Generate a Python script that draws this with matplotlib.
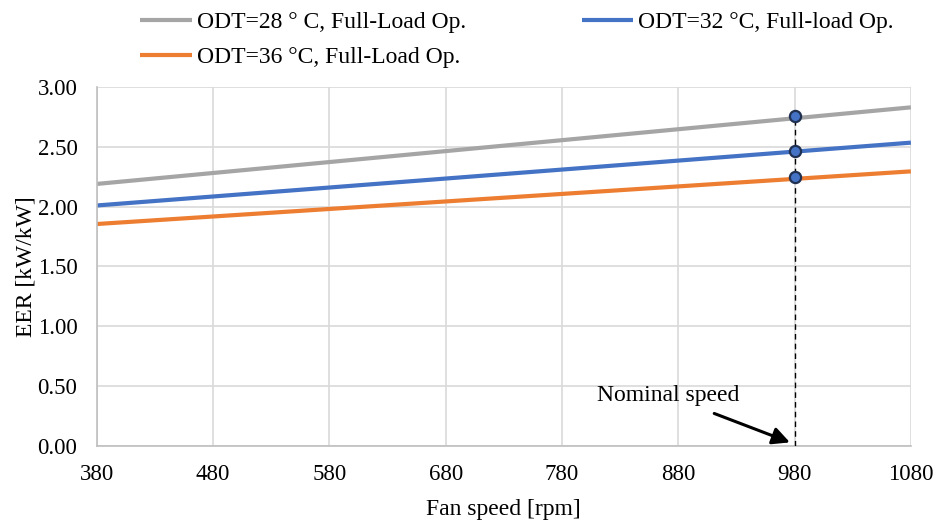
import matplotlib
matplotlib.use("Agg")
import matplotlib.pyplot as plt
import numpy as np

plt.rcParams['font.family'] = ['Liberation Serif', 'DejaVu Serif']

fan_speed = [380, 1080]
eer_28 = [2.19, 2.83]
eer_32 = [2.01, 2.535]
eer_36 = [1.855, 2.295]
nominal_speed = 980
nominal_points = [2.755, 2.465, 2.245]
labels = ["ODT=28 ° C, Full-Load Op.", "ODT=32 °C, Full-load Op.", "ODT=36 °C, Full-Load Op."]
colors = ["#A5A5A5", "#4472C4", "#ED7D31"]

fig = plt.figure(figsize=(9.4, 5.21), dpi=100)
ax = fig.add_axes([0.103, 0.144, 0.866, 0.689])

handles = []
for ys, c, lab in zip([eer_28, eer_32, eer_36], colors, labels):
    h, = ax.plot(fan_speed, ys, color=c, lw=3, label=lab, solid_capstyle='butt')
    handles.append(h)

ax.plot([nominal_speed, nominal_speed], [0, nominal_points[0]], color='black', lw=1, ls=(0, (4, 3)), zorder=3)
ax.scatter([nominal_speed] * len(nominal_points), nominal_points, s=65, facecolor='#4472C4',
           edgecolor='#1F3050', linewidth=1.6, zorder=5)

ax.annotate("Nominal speed", xy=(976, 0.03), xytext=(871, 0.42), fontsize=17,
            ha='center', va='center',
            arrowprops=dict(arrowstyle='-|>', color='black', lw=2.2, mutation_scale=26,
                            shrinkA=9, shrinkB=0))

ax.set_xlim(380, 1080)
ax.set_ylim(0, 3)
ax.set_xticks(np.arange(380, 1081, 100))
ax.set_yticks(np.arange(0, 3.01, 0.5))
ax.set_yticklabels([f"{v:.2f}" for v in np.arange(0, 3.01, 0.5)])
ax.tick_params(labelsize=16.5, length=0)
ax.tick_params(axis='y', pad=14)
ax.tick_params(axis='x', pad=13)
ax.grid(True, color='#D9D9D9', lw=1.2)
ax.set_axisbelow(True)
for s in ['top', 'right']:
    ax.spines[s].set_visible(False)
for s in ['left', 'bottom']:
    ax.spines[s].set_color('#BFBFBF')
    ax.spines[s].set_linewidth(1.2)

ax.set_xlabel("Fan speed [rpm]", fontsize=17, labelpad=10)
ax.set_ylabel("EER [kW/kW]", fontsize=17, labelpad=1)

fig.legend(handles=[handles[0], handles[2], handles[1]],
           labels=[labels[0], labels[2], labels[1]],
           ncol=2, loc='upper left', bbox_to_anchor=(0.149, 0.978), frameon=False,
           borderpad=0, borderaxespad=0,
           fontsize=17, handlelength=2.2, handletextpad=0.2, columnspacing=4.9,
           labelspacing=0.58)

fig.savefig("out.png", dpi=100)
